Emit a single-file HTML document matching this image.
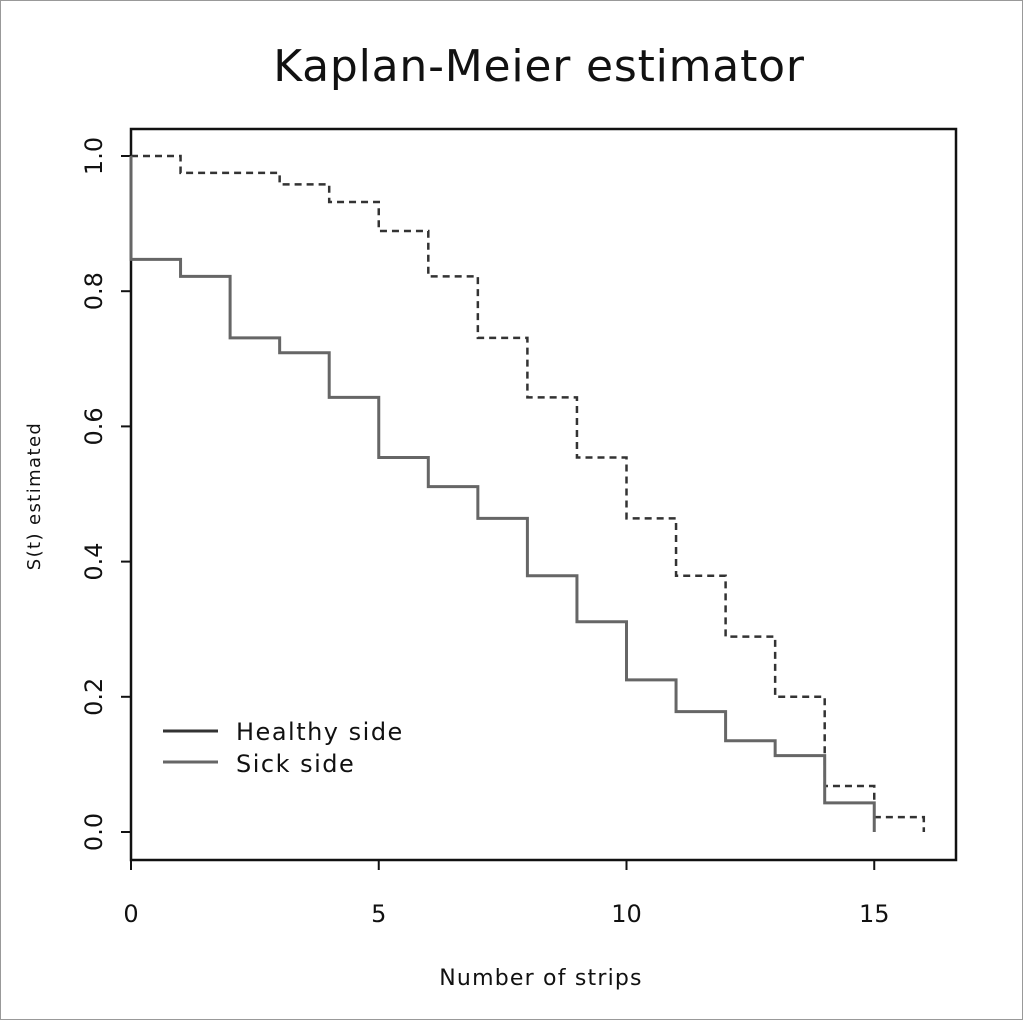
<!DOCTYPE html>
<html><head><meta charset="utf-8"><style>
html,body{margin:0;padding:0;background:#fff;}
svg{display:block;font-family:"DejaVu Sans","Liberation Sans",sans-serif;}
</style></head><body>
<svg id="chart" width="1023" height="1020" viewBox="0 0 1023 1020">
<rect x="0.5" y="0.5" width="1022" height="1019" fill="#fff" stroke="#999"/>
<text x="539" y="81" font-size="44" letter-spacing="0.8" text-anchor="middle" fill="#111">Kaplan-Meier estimator</text>
<rect x="131" y="129" width="825" height="731" fill="none" stroke="#111" stroke-width="2.5"/>
<g id="xticks"></g>
<g id="yticks"></g>
<text x="541" y="985" font-size="22" letter-spacing="1.2" text-anchor="middle" fill="#111">Number of strips</text>
<text transform="translate(40,496) rotate(-90)" font-size="18" letter-spacing="1.4" text-anchor="middle" fill="#111">S(t) estimated</text>
<g id="series"></g>
<g>
<line x1="163" y1="731" x2="218" y2="731" stroke="#333" stroke-width="3"/>
<text x="236" y="740" font-size="24" letter-spacing="1.5" fill="#111">Healthy side</text>
<line x1="163" y1="762" x2="218" y2="762" stroke="#666" stroke-width="3"/>
<text x="236" y="772" font-size="24" letter-spacing="1.5" fill="#111">Sick side</text>
</g>
</svg>
<script>
const xTicks=[0,5,10,15];
const yTicks=[0,0.2,0.4,0.6,0.8,1.0];
const yTickLabels=["0.0","0.2","0.4","0.6","0.8","1.0"];
const healthyTimes=[0,1,3,4,5,6,7,8,9,10,11,12,13,14,15,16];
const healthySurv=[1.0,0.975,0.958,0.932,0.889,0.822,0.731,0.643,0.554,0.464,0.379,0.289,0.2,0.068,0.022,0];
const sickTimes=[0,1,2,3,4,5,6,7,8,9,10,11,12,13,14,15];
const sickSurv=[0.847,0.822,0.731,0.709,0.643,0.554,0.511,0.464,0.379,0.311,0.225,0.178,0.135,0.113,0.043,0];
const sx=v=>131+v*49.55;
const sy=v=>832-v*676;
const NS="http://www.w3.org/2000/svg";
const xg=document.getElementById('xticks'),yg=document.getElementById('yticks'),sg=document.getElementById('series');
function mk(t,a,p){const e=document.createElementNS(NS,t);for(const k in a)e.setAttribute(k,a[k]);p.appendChild(e);return e;}
xTicks.forEach(v=>{
 const l=mk('line',{x1:sx(v),x2:sx(v),y1:860,y2:870,stroke:'#111','stroke-width':2},xg);
 
 
 const t=mk('text',{x:sx(v),y:922,'font-size':24,'text-anchor':'middle',fill:'#111'},xg);
 t.textContent=v;
 
 
});
yTicks.forEach((v,i)=>{
 const l=mk('line',{x1:121,x2:131,y1:sy(v),y2:sy(v),stroke:'#111','stroke-width':2},yg);
 
 
 const t=mk('text',{transform:`translate(102,${sy(v)}) rotate(-90)`,'font-size':24,'text-anchor':'middle',fill:'#111'},yg);
 t.textContent=yTickLabels[i];
 
 
});
function step(times,surv,start){
 let d=`M${sx(times[0])},${sy(start)}`;
 for(let i=0;i<surv.length;i++){
  d+=` L${sx(times[i])},${sy(surv[i])}`;
  if(i+1<times.length) d+=` L${sx(times[i+1])},${sy(surv[i])}`;
 }
 return d;
}
const h=mk('path',{d:step(healthyTimes,healthySurv,1.0),fill:'none',stroke:'#333','stroke-width':2.5,'stroke-dasharray':'7,5'},sg);


const s=mk('path',{d:step(sickTimes,sickSurv,1.0),fill:'none',stroke:'#666','stroke-width':3},sg);


</script>
</body></html>
